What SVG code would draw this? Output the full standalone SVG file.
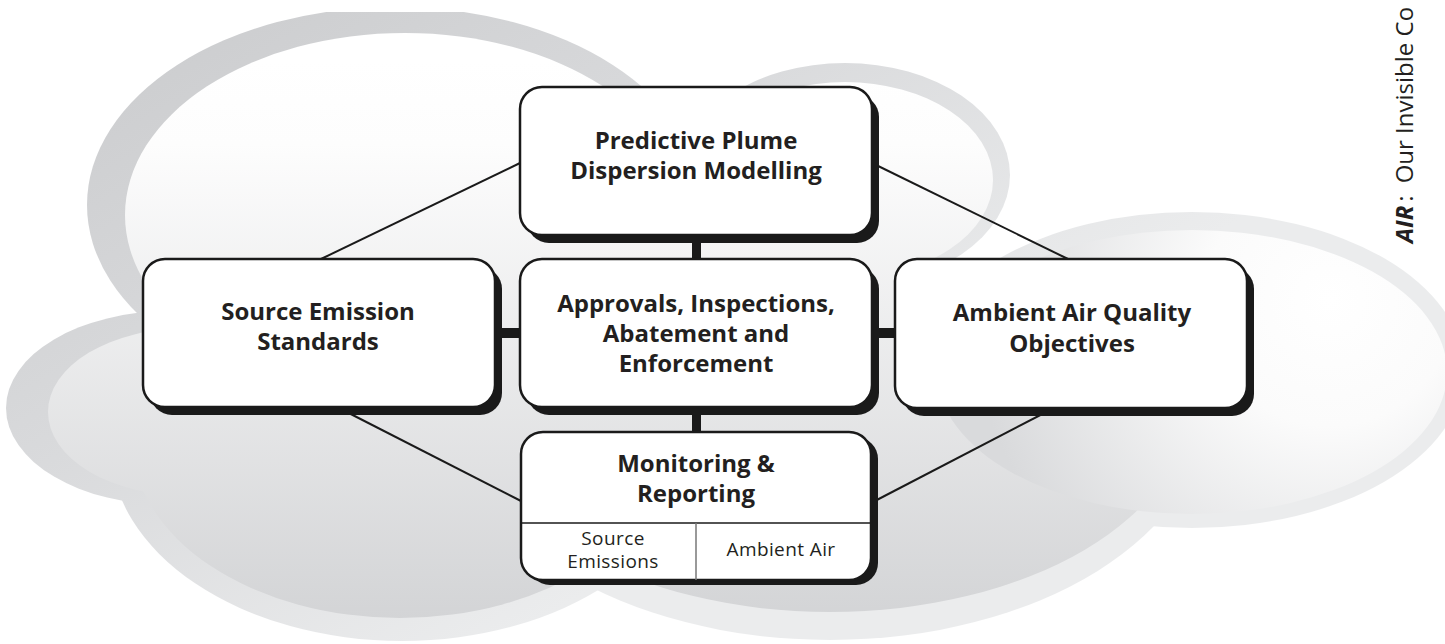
<svg xmlns="http://www.w3.org/2000/svg" width="1445" height="644" viewBox="0 0 1445 644">
<style>
.rim{fill:url(#rimG)}
.in{fill:url(#inG)}
.box{fill:#fff;stroke:#1a1a1a;stroke-width:2.5}
.sh{fill:#1a1a1a}
.thin{stroke:#1a1a1a;stroke-width:2;fill:none}
.bar{fill:#1a1a1a}
.t{font-family:"Open Sans","Noto Sans",sans-serif;font-weight:700;font-size:24px;fill:#231f20;text-anchor:middle}
.s{font-family:"Open Sans","Noto Sans",sans-serif;font-weight:400;font-size:19px;fill:#231f20;text-anchor:middle;letter-spacing:0.4px}
.v{font-family:"Open Sans","Noto Sans",sans-serif;font-weight:400;font-size:24px;fill:#231f20}
</style>
<defs>
<linearGradient id="rimG" gradientUnits="userSpaceOnUse" x1="0" y1="0" x2="400" y2="700">
<stop offset="0" stop-color="#c8c9cb"/><stop offset="0.5" stop-color="#d8d9db"/><stop offset="1" stop-color="#ebeced"/>
</linearGradient>
<linearGradient id="inG" gradientUnits="userSpaceOnUse" x1="0" y1="60" x2="0" y2="620">
<stop offset="0" stop-color="#ffffff"/><stop offset="0.15" stop-color="#fdfdfd"/><stop offset="1" stop-color="#d3d4d6"/>
</linearGradient>
<radialGradient id="rG" gradientUnits="userSpaceOnUse" cx="1330" cy="300" r="360">
<stop offset="0" stop-color="#ffffff"/><stop offset="0.35" stop-color="#fbfbfb"/><stop offset="1" stop-color="#d9dadc"/>
</radialGradient>
<clipPath id="cc"><rect x="0" y="12" width="1445" height="632"/></clipPath>
<clipPath id="low"><rect x="0" y="360" width="1445" height="284"/></clipPath>
</defs>
<g id="cloud" clip-path="url(#cc)">
<g id="rims">
<ellipse class="rim" cx="395" cy="205" rx="308" ry="198"/>
<ellipse class="rim" cx="845" cy="175" rx="165" ry="112"/>
<ellipse class="rim" cx="1192" cy="370" rx="272" ry="158"/>
<ellipse class="rim" cx="170" cy="408" rx="164" ry="97"/>
<g clip-path="url(#low)">
<ellipse class="rim" cx="402" cy="445" rx="292" ry="196"/>
<ellipse class="rim" cx="830" cy="405" rx="378" ry="235"/>
</g>
</g>
<g id="interiors">
<ellipse class="in" cx="405" cy="215" rx="280" ry="182"/>
<ellipse class="in" cx="845" cy="180" rx="148" ry="98"/>
<ellipse class="in" cx="188" cy="412" rx="140" ry="84"/>
<ellipse class="in" cx="700" cy="330" rx="230" ry="160"/>
<g clip-path="url(#low)">
<ellipse class="in" cx="400" cy="440" rx="268" ry="178"/>
<ellipse class="in" cx="830" cy="400" rx="360" ry="212"/>
</g>
<ellipse cx="1192" cy="372" rx="255" ry="142" fill="url(#rG)"/>
</g>
</g>
<g id="connectors">
<line class="thin" x1="321" y1="259" x2="520" y2="163"/>
<line class="thin" x1="872" y1="163" x2="1068" y2="259"/>
<line class="thin" x1="337" y1="407" x2="521" y2="501"/>
<line class="thin" x1="1054" y1="408" x2="871" y2="503"/>
<rect class="bar" x="692" y="240" width="9" height="20"/>
<rect class="bar" x="692" y="412" width="9" height="21"/>
<rect class="bar" x="500" y="328" width="21" height="10"/>
<rect class="bar" x="878" y="328" width="18" height="10"/>
</g>
<g id="predictive">
<rect class="sh" x="527" y="95" width="352" height="148" rx="22"/>
<rect class="box" x="520" y="87" width="352" height="148" rx="22"/>
<text class="t"><tspan x="696" y="149">Predictive Plume</tspan><tspan x="696" y="179">Dispersion Modelling</tspan></text>
</g>
<g id="source">
<rect class="sh" x="150" y="267" width="352" height="148" rx="22"/>
<rect class="box" x="143" y="259" width="352" height="148" rx="22"/>
<text class="t"><tspan x="318" y="320">Source Emission</tspan><tspan x="318" y="350">Standards</tspan></text>
</g>
<g id="approvals">
<rect class="sh" x="527" y="267" width="352" height="148" rx="22"/>
<rect class="box" x="520" y="259" width="352" height="148" rx="22"/>
<text class="t"><tspan x="696" y="312">Approvals, Inspections,</tspan><tspan x="696" y="342">Abatement and</tspan><tspan x="696" y="372">Enforcement</tspan></text>
</g>
<g id="ambient">
<rect class="sh" x="902" y="267" width="352" height="149" rx="22"/>
<rect class="box" x="895" y="259" width="352" height="149" rx="22"/>
<text class="t"><tspan x="1072" y="321">Ambient Air Quality</tspan><tspan x="1072" y="352">Objectives</tspan></text>
</g>
<g id="monitoring">
<rect class="sh" x="528" y="437" width="350" height="148" rx="22"/>
<rect class="box" x="521" y="432" width="350" height="148" rx="22"/>
<line x1="521" y1="523" x2="871" y2="523" stroke="#1a1a1a" stroke-width="1.5"/>
<line x1="696" y1="523" x2="696" y2="580" stroke="#777" stroke-width="1.5"/>
<text class="t"><tspan x="696" y="472">Monitoring &amp;</tspan><tspan x="696" y="502">Reporting</tspan></text>
<text class="s"><tspan x="613" y="545">Source</tspan><tspan x="613" y="568">Emissions</tspan></text>
<text class="s" x="781" y="556">Ambient Air</text>
</g>
<g id="title">
<text class="v" transform="translate(1413,243) rotate(-90)"><tspan font-weight="700" font-style="italic">AIR</tspan><tspan dx="4">:</tspan><tspan dx="12">Our Invisible Co</tspan></text>
</g>
</svg>
